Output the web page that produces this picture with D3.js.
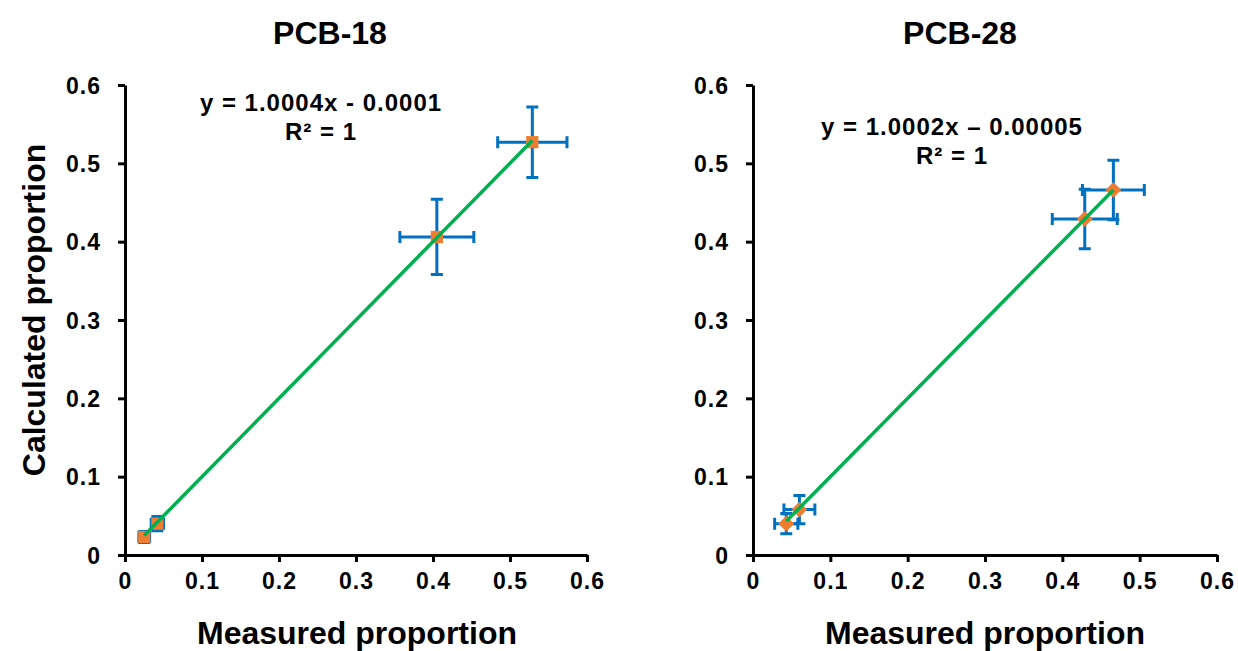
<!DOCTYPE html>
<html>
<head>
<meta charset="utf-8">
<script src="https://cdn.jsdelivr.net/npm/d3@7"></script>
<style>
  body { margin: 0; background: #fff; }
  svg text { font-family: "Liberation Sans", Arial, sans-serif; font-weight: bold; fill: #000; }
</style>
</head>
<body>
<svg id="chart" width="1238" height="651"></svg>
<script>
// PCB-18 (squares)
const pcb18Measured = [0.025, 0.042, 0.405, 0.529];
const pcb18Calculated = [0.023, 0.040, 0.406, 0.527];
const pcb18MeasuredErr = [0.007, 0.008, 0.048, 0.045];
const pcb18CalculatedErr = [0.007, 0.009, 0.048, 0.045];

// PCB-28 (diamonds)
const pcb28Measured = [0.043, 0.060, 0.429, 0.466];
const pcb28Calculated = [0.040, 0.058, 0.429, 0.466];
const pcb28MeasuredErr = [0.015, 0.020, 0.042, 0.040];
const pcb28CalculatedErr = [0.013, 0.018, 0.038, 0.038];

const tickValues = [0, 0.1, 0.2, 0.3, 0.4, 0.5, 0.6];
const titles = ["PCB-18", "PCB-28"];
const equations = [["y = 1.0004x - 0.0001", "R\u00b2 = 1"], ["y = 1.0002x \u2013 0.00005", "R\u00b2 = 1"]];
const fits = [{ slope: 1.0004, intercept: -0.0001 }, { slope: 1.0002, intercept: -0.00005 }];

const blue = "#0070C0", orange = "#ED7D31", green = "#00B050";
const svg = d3.select("#chart");

const panels = [
  { x: pcb18Measured, y: pcb18Calculated, xe: pcb18MeasuredErr, ye: pcb18CalculatedErr,
    range: [125, 587], shape: "square", titleX: 330, eqX: 321, eqY: 103, xTitleX: 357 },
  { x: pcb28Measured, y: pcb28Calculated, xe: pcb28MeasuredErr, ye: pcb28CalculatedErr,
    range: [753, 1217], shape: "diamond", titleX: 960, eqX: 952, eqY: 127, xTitleX: 985 }
];

const fmt = d => d === 0 ? "0" : d3.format(".1f")(d);

panels.forEach((p, i) => {
  const x = d3.scaleLinear().domain([0, 0.6]).range(p.range);
  const y = d3.scaleLinear().domain([0, 0.6]).range([555, 85]);
  const g = svg.append("g");
  const pts = p.x.map((v, k) => ({ x: v, y: p.y[k], xe: p.xe[k], ye: p.ye[k] }));

  // axes
  const xAxis = g.append("g").attr("transform", "translate(0,555)")
    .call(d3.axisBottom(x).tickValues(tickValues).tickSize(7).tickSizeOuter(0).tickFormat(fmt));
  const yAxis = g.append("g").attr("transform", `translate(${p.range[0]},0)`)
    .call(d3.axisLeft(y).tickValues(tickValues).tickSize(7).tickSizeOuter(0).tickFormat(fmt));
  [xAxis, yAxis].forEach(a => {
    a.selectAll("path, line").attr("stroke", "#000").attr("stroke-width", 3);
    a.selectAll("text").style("font-size", "23px").style("letter-spacing", "1px");
  });
  xAxis.selectAll("text").attr("dy", "0.71em").attr("y", 18);
  yAxis.selectAll("text").attr("dy", "0.35em").attr("x", -24);

  // error bars
  const cap = 6;
  const eb = g.append("g").attr("stroke", blue).attr("stroke-width", 3).attr("fill", "none");
  pts.forEach(d => {
    const cx = x(d.x), cy = y(d.y);
    const x0 = x(d.x - d.xe), x1 = x(d.x + d.xe), y0 = y(d.y - d.ye), y1 = y(d.y + d.ye);
    eb.append("path").attr("d",
      `M${x0},${cy}H${x1}M${x0},${cy - cap}V${cy + cap}M${x1},${cy - cap}V${cy + cap}` +
      `M${cx},${y0}V${y1}M${cx - cap},${y0}H${cx + cap}M${cx - cap},${y1}H${cx + cap}`);
  });

  // markers
  const sym = p.shape === "square"
    ? d3.symbol().type(d3.symbolSquare).size(150)
    : d3.symbol().type(d3.symbolSquare).size(125);
  g.append("g").selectAll("path").data(pts).join("path")
    .attr("d", sym)
    .attr("transform", d => `translate(${x(d.x)},${y(d.y)})` + (p.shape === "diamond" ? " rotate(45)" : ""))
    .attr("fill", orange);

  // trend line
  const xs = d3.extent(p.x);
  const f = fits[i];
  g.append("line")
    .attr("x1", x(xs[0])).attr("y1", y(f.slope * xs[0] + f.intercept))
    .attr("x2", x(xs[1])).attr("y2", y(f.slope * xs[1] + f.intercept))
    .attr("stroke", green).attr("stroke-width", 3.5);

  // titles
  svg.append("text").attr("x", p.titleX).attr("y", 44).attr("text-anchor", "middle")
    .style("font-size", "32px").text(titles[i]);
  equations[i].forEach((t, k) => {
    svg.append("text").attr("x", p.eqX).attr("y", p.eqY + 29 * k).attr("dy", "0.35em")
      .attr("text-anchor", "middle").style("font-size", "24px").style("letter-spacing", "1px").text(t);
  });
  svg.append("text").attr("x", p.xTitleX).attr("y", 644).attr("text-anchor", "middle")
    .style("font-size", "32px").text("Measured proportion");
});

svg.append("text").attr("transform", "translate(45,310) rotate(-90)")
  .attr("text-anchor", "middle").style("font-size", "32px").text("Calculated proportion");
</script>
</body>
</html>
